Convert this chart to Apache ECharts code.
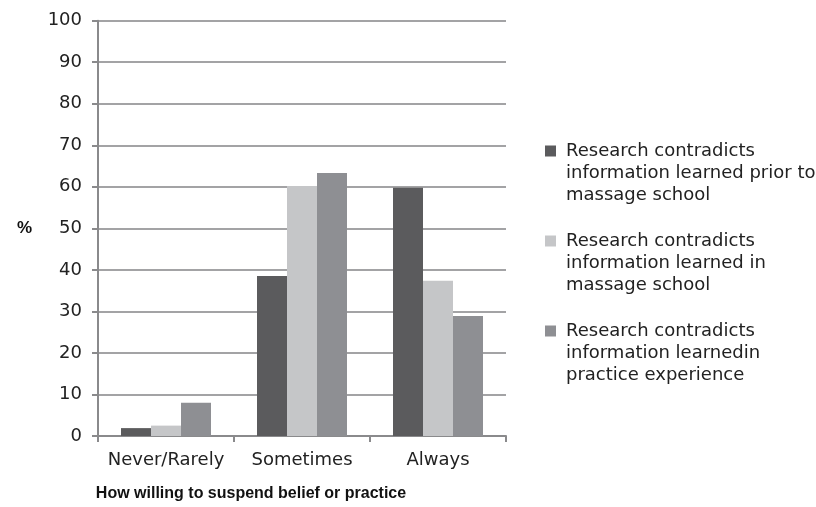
<!DOCTYPE html>
<html><head><meta charset="utf-8">
<script src="https://cdn.jsdelivr.net/npm/echarts@6/dist/echarts.min.js"></script>
<style>html,body{margin:0;padding:0;background:#fff}#c{width:816px;height:507px}</style>
</head><body><div id="c"></div>
<script>
const categories = ['Never/Rarely', 'Sometimes', 'Always'];
const seriesNames = [
  'Research contradicts information learned prior to massage school',
  'Research contradicts information learned in massage school',
  'Research contradicts information learnedin practice experience'
];
const legendLabels = [
  'Research contradicts\ninformation learned prior to\nmassage school',
  'Research contradicts\ninformation learned in\nmassage school',
  'Research contradicts\ninformation learnedin\npractice experience'
];
const priorValues = [1.9, 38.5, 59.8];
const schoolValues = [2.5, 60.2, 37.4];
const practiceValues = [8.0, 63.3, 28.9];
const colors = ['#5b5b5d', '#c5c6c8', '#8e8f93'];

const font = '"DejaVu Sans", "Liberation Sans", sans-serif';
const boldFont = '"Liberation Sans", Arial, sans-serif';
const chart = echarts.init(document.getElementById('c'));
const vals = [priorValues, schoolValues, practiceValues];
// legend icon: square aligned to first text line, with invisible extent points
const legendIcon = 'path://M0,0L0,0M0,5.5L11,5.5L11,16.5L0,16.5ZM16,66L16,66';
chart.setOption({
  animation: false,
  textStyle: {fontFamily: font},
  grid: {left: 98, right: 310, top: 20.7, bottom: 69.3},
  legend: {
    orient: 'vertical',
    left: 540,
    top: 135,
    itemWidth: 16,
    itemHeight: 66,
    itemGap: 24,
    icon: legendIcon,
    data: seriesNames,
    formatter: function (n) { return legendLabels[seriesNames.indexOf(n)]; },
    textStyle: {fontFamily: font, fontSize: 18, lineHeight: 22, color: '#222'}
  },
  xAxis: {
    type: 'category',
    data: categories,
    name: 'How willing to suspend belief or practice',
    nameLocation: 'middle',
    nameGap: 50,
    nameTextStyle: {fontFamily: boldFont, fontSize: 16, fontWeight: 'bold', color: '#111', padding: [0, 102, 0, 0]},
    axisLine: {lineStyle: {color: '#8a8a8c', width: 2}},
    axisTick: {show: true, interval: 0, length: 6, lineStyle: {color: '#8a8a8c', width: 2}},
    axisLabel: {interval: 0, fontFamily: font, fontSize: 18, color: '#222', margin: 15}
  },
  yAxis: {
    type: 'value',
    min: 0, max: 100, interval: 10,
    name: '%',
    nameLocation: 'middle',
    nameRotate: 0,
    nameGap: 66,
    nameTextStyle: {fontFamily: boldFont, fontSize: 17, fontWeight: 'bold', color: '#111'},
    axisLine: {show: true, lineStyle: {color: '#8a8a8c', width: 2}},
    axisTick: {show: true, length: 6, lineStyle: {color: '#8a8a8c', width: 2}},
    axisLabel: {fontFamily: font, fontSize: 18, color: '#222', margin: 16},
    splitLine: {lineStyle: {color: '#a3a3a5', width: 2}}
  },
  series: seriesNames.map((n, i) => ({
    name: n,
    type: 'bar',
    data: vals[i],
    barWidth: 30,
    barGap: '0%',
    itemStyle: {color: colors[i]}
  }))
});
</script></body></html>
